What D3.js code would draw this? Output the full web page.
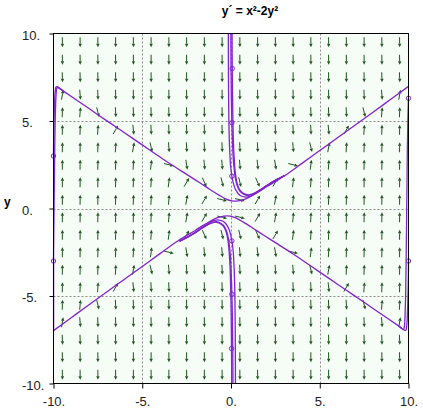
<!DOCTYPE html>
<html><head><meta charset="utf-8">
<script src="https://cdn.jsdelivr.net/npm/d3@7"></script>
<style>body{margin:0;background:#fff}svg{display:block}</style>
</head><body><div id="chart"></div>
<script>
// ---------- data ----------
const title = "y\u00B4 = x\u00B2-2y\u00B2";
const xTicks = [-10, -5, 0, 5, 10];
const yTicks = [-10, -5, 0, 5, 10];
const gridX = [-5, 0, 5];
const gridY = [-5, 0, 5];
// direction-field sample positions
const fieldX = [-9.5,-8.5,-7.5,-6.5,-5.5,-4.5,-3.5,-2.5,-1.5,-0.5,0.5,1.5,2.5,3.5,4.5,5.5,6.5,7.5,8.5,9.5];
const fieldY = [-9.5,-8.5,-7.5,-6.5,-5.5,-4.5,-3.5,-2.5,-1.5,-0.5,0.5,1.5,2.5,3.5,4.5,5.5,6.5,7.5,8.5,9.5];
// slope of the field, y' = x^2 - 2y^2 (as given in the title)
const slopeAt = (x, y) => x * x - 2 * y * y;

// solution curves
const upperV = [[-10,3.0],[-9.99,4.0],[-9.97,5.0],[-9.94,6.0],[-9.92,6.5],[-9.89,6.8],[-9.86,6.95],[-9.8,6.96],[-9.5,6.75],[-8.5,6.06],[-7.5,5.36],[-6.5,4.67],[-5.5,3.98],[-4.5,3.29],[-3.5,2.6],[-2.5,1.95],[-1.8,1.5],[-1.2,1.1],[-0.7,0.78],[-0.3,0.55],[0.05,0.43],[0.4,0.43],[0.8,0.54],[1.2,0.74],[1.6,0.98],[2,1.24],[3,1.86],[4,2.58],[5,3.31],[6,4.04],[7,4.77],[8,5.5],[9,6.24],[10,6.98]];
const lowerV = [[10,-3.0],[9.99,-4.0],[9.97,-5.0],[9.94,-6.0],[9.92,-6.5],[9.89,-6.8],[9.86,-6.95],[9.8,-6.96],[9.5,-6.75],[8.5,-6.06],[7.5,-5.36],[6.5,-4.67],[5.5,-3.98],[4.5,-3.29],[3.5,-2.6],[2.5,-1.95],[1.8,-1.5],[1.2,-1.1],[0.7,-0.78],[0.3,-0.55],[-0.05,-0.43],[-0.4,-0.43],[-0.8,-0.54],[-1.2,-0.74],[-1.6,-0.98],[-2,-1.24],[-3,-1.86],[-4,-2.58],[-5,-3.31],[-6,-4.04],[-7,-4.77],[-8,-5.5],[-9,-6.24],[-10,-6.98]];
const leftRise = [[-10,-3],[-9.985,-1.5],[-9.968,0],[-9.952,1.5],[-9.936,3],[-9.923,4],[-9.906,5],[-9.879,6],[-9.856,6.5],[-9.83,6.8],[-9.79,6.92],[-9.7,6.88],[-9.5,6.75]];
const leftDrop = [[-9.995,-3],[-9.995,-5],[-9.995,-7.0]];
const rightDrop = [[10,6.3],[9.988,6],[9.962,5],[9.931,3],[9.9,0],[9.867,-3],[9.838,-5],[9.811,-6],[9.789,-6.5],[9.76,-6.8],[9.72,-6.9],[9.6,-6.85],[9.5,-6.76]];
const top8 = [[0.06,10],[0.07,8],[0.1,5.4],[0.13,4.0],[0.17,3.0],[0.26,1.9],[0.36,1.38],[0.5,1.05],[0.65,0.9],[0.85,0.8],[1.05,0.79],[1.35,0.9],[1.75,1.14],[2.25,1.47],[3,1.88]];
const top5 = [[-0.01,10],[0,8],[0.02,6.3],[0.05,4.9],[0.1,3.4],[0.15,2.55],[0.25,1.7],[0.35,1.3],[0.5,1.0],[0.65,0.86],[0.85,0.76],[1.05,0.76],[1.35,0.88],[1.75,1.12],[2.25,1.46],[3,1.87]];
const top2 = [[-0.15,10],[-0.14,7],[-0.12,5],[-0.08,3.5],[-0.02,2.4],[0.05,1.85],[0.15,1.38],[0.25,1.1],[0.4,0.86],[0.55,0.73],[0.75,0.66],[0.95,0.66],[1.15,0.72],[1.45,0.9],[1.85,1.17],[2.35,1.52],[3,1.87]];
const bot8 = [[0.04,-10],[0.03,-8],[0.0,-5.4],[-0.03,-4.0],[-0.07,-3.0],[-0.16,-1.9],[-0.26,-1.38],[-0.4,-1.05],[-0.55,-0.9],[-0.75,-0.8],[-0.95,-0.79],[-1.25,-0.9],[-1.65,-1.14],[-2.15,-1.47],[-2.9,-1.88]];
const bot5 = [[0.11,-10],[0.1,-8],[0.08,-6.3],[0.05,-4.9],[0,-3.4],[-0.05,-2.55],[-0.15,-1.7],[-0.25,-1.3],[-0.4,-1.0],[-0.55,-0.86],[-0.75,-0.76],[-0.95,-0.76],[-1.25,-0.88],[-1.65,-1.12],[-2.15,-1.46],[-2.9,-1.87]];
const bot2 = [[0.25,-10],[0.24,-7],[0.22,-5],[0.18,-3.5],[0.12,-2.4],[0.05,-1.85],[-0.05,-1.38],[-0.15,-1.1],[-0.3,-0.86],[-0.45,-0.73],[-0.65,-0.66],[-0.85,-0.66],[-1.05,-0.72],[-1.35,-0.9],[-1.75,-1.17],[-2.25,-1.52],[-2.9,-1.87]];
const curves = [upperV, lowerV, leftRise, leftDrop, rightDrop, top8, top5, top2, bot8, bot5, bot2];
const initialPoints = [[-10,3],[-10,-3],[10,6.3],[10,-3],[0.07,8],[0.05,4.9],[0.05,1.85],[0.05,-1.85],[0.05,-4.9],[0.03,-8]];

// ---------- drawing ----------
const W = 423, H = 412;
const svg = d3.select("#chart").append("svg").attr("width", W).attr("height", H)
  .style("font-family", "'Liberation Sans', Arial, sans-serif");

const x = d3.scaleLinear().domain([-10, 10]).range([53.5, 408.5]);
const y = d3.scaleLinear().domain([-10, 10]).range([383.5, 33.5]);

svg.append("rect").attr("x", x(-10)).attr("y", y(10))
  .attr("width", x(10) - x(-10)).attr("height", y(-10) - y(10))
  .attr("fill", "#f6fcf6");

// dashed grid
const grid = svg.append("g").attr("stroke", "#8a8a8a").attr("stroke-dasharray", "2,2").attr("stroke-width", 1);
grid.selectAll("line.gx").data(gridX).join("line")
  .attr("x1", d => Math.round(x(d)) + 0.5).attr("x2", d => Math.round(x(d)) + 0.5)
  .attr("y1", y(10)).attr("y2", y(-10));
grid.selectAll("line.gy").data(gridY).join("line")
  .attr("y1", d => Math.round(y(d)) + 0.5).attr("y2", d => Math.round(y(d)) + 0.5)
  .attr("x1", x(-10)).attr("x2", x(10));

// direction field
const field = [];
fieldX.forEach(fx => fieldY.forEach(fy => field.push({x: fx, y: fy, s: slopeAt(fx, fy)})));
const kx = x(1) - x(0), ky = y(0) - y(1);
const L = 10, HL = 3.5, HW = 1.7;
const ag = svg.append("g");
field.forEach(d => {
  let vx = kx, vy = -d.s * ky;
  const n = Math.hypot(vx, vy); vx /= n; vy /= n;
  const cx = x(d.x), cy = y(d.y);
  const tx = cx + vx * L / 2, ty = cy + vy * L / 2;
  const sx = cx - vx * L / 2, sy = cy - vy * L / 2;
  const bx = tx - vx * HL, by = ty - vy * HL;
  ag.append("line").attr("x1", sx).attr("y1", sy).attr("x2", bx).attr("y2", by)
    .attr("stroke", "#1f551f").attr("stroke-width", 1);
  ag.append("path")
    .attr("d", `M${tx},${ty}L${bx - vy * HW},${by + vx * HW}L${bx + vy * HW},${by - vx * HW}Z`)
    .attr("fill", "#1f551f");
});

// solution curves
const line = d3.line().x(d => x(d[0])).y(d => y(d[1])).curve(d3.curveCatmullRom.alpha(0.5));
svg.append("g").selectAll("path").data(curves).join("path")
  .attr("d", line).attr("fill", "none").attr("stroke", "#8024cc").attr("stroke-width", 1.3);
svg.append("g").selectAll("circle").data(initialPoints).join("circle")
  .attr("cx", d => x(d[0])).attr("cy", d => y(d[1])).attr("r", 2.2)
  .attr("fill", "none").attr("stroke", "#8024cc").attr("stroke-width", 1);

// frame
svg.append("rect").attr("x", x(-10)).attr("y", y(10))
  .attr("width", x(10) - x(-10)).attr("height", y(-10) - y(10))
  .attr("fill", "none").attr("stroke", "#000").attr("stroke-width", 1);

// axes
const fmt = d => d + ".";
const xa = svg.append("g").attr("transform", `translate(0,${y(-10)})`)
  .call(d3.axisBottom(x).tickValues(xTicks).tickSize(5).tickPadding(6).tickFormat(fmt));
xa.select(".domain").remove();
xa.selectAll("text").attr("font-size", 13).attr("fill", "#222").attr("font-family", "'Liberation Sans', Arial, sans-serif")
  .attr("dy", null).attr("y", 22);
const ya = svg.append("g").attr("transform", `translate(${x(-10)},0)`)
  .call(d3.axisLeft(y).tickValues(yTicks).tickSize(4).tickFormat(fmt));
ya.select(".domain").remove();
ya.selectAll("text").attr("font-size", 13).attr("fill", "#222").attr("font-family", "'Liberation Sans', Arial, sans-serif")
  .attr("text-anchor", "start").attr("x", 22 - x(-10)).attr("dy", null).attr("y", 5.5);

// title & axis label
svg.append("text").attr("x", 250).attr("y", 15).attr("text-anchor", "middle")
  .attr("font-size", 12).attr("font-weight", "bold").text(title);
svg.append("text").attr("x", 4).attr("y", 206).attr("font-size", 12)
  .attr("font-weight", "bold").text("y");
</script></body></html>
